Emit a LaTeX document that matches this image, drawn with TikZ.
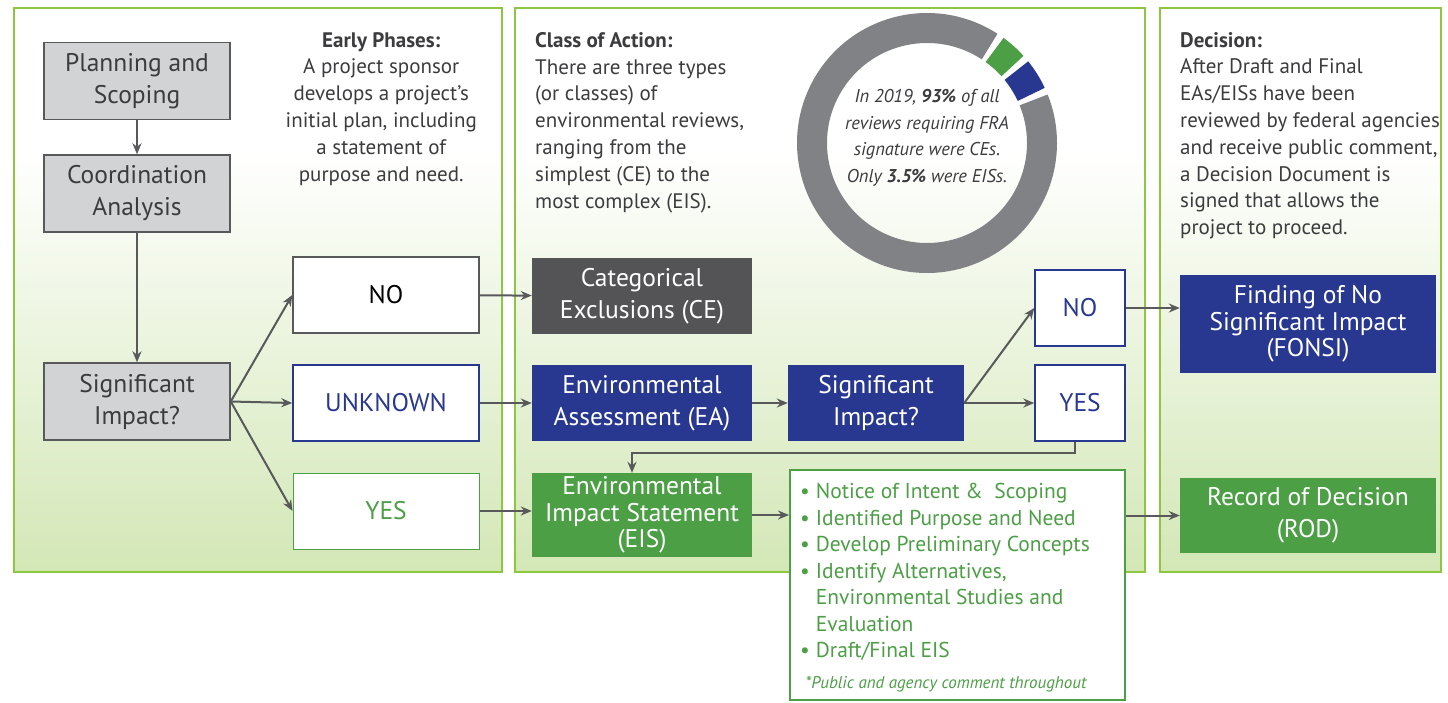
\documentclass[tikz,border=0pt]{standalone}
\usepackage{fontspec}
\setmainfont{PT Sans}
\usetikzlibrary{arrows.meta}

\definecolor{panelline}{HTML}{8DC63F}
\definecolor{panelbg}{HTML}{D3E7B6}
\definecolor{boxgray}{HTML}{D1D3D4}
\definecolor{linegray}{HTML}{58595B}
\definecolor{darkbox}{HTML}{545456}
\definecolor{ringgray}{HTML}{808285}
\definecolor{fedblue}{HTML}{283891}
\definecolor{fedgreen}{HTML}{4C9F45}
\definecolor{textgray}{HTML}{3C3C3E}

\newcommand{\boxtxt}{\fontsize{25.5}{32}\selectfont}
\newcommand{\tightboxtxt}{\fontsize{25.5}{26.5}\selectfont}
\newcommand{\paneltxt}{\fontsize{21}{26.8}\selectfont}
\newcommand{\donuttxt}{\fontsize{18.5}{26.5}\selectfont\itshape}
\newcommand{\listtxt}{\fontsize{21.5}{26.5}\selectfont}
\newcommand{\notetxt}{\fontsize{17}{18}\selectfont\itshape}

\begin{document}
\begin{tikzpicture}[x=1pt,y=-1pt,
    every node/.style={font=\boxtxt, align=center, inner sep=0pt},
    stagebox/.style={draw=linegray, line width=1.5pt, fill=boxgray, text=textgray,
      minimum width=186pt, minimum height=77pt},
    answerbox/.style={draw=#1, line width=1.5pt, fill=white, text=#1,
      minimum height=76pt},
    classbox/.style={fill=#1, text=white, minimum width=220pt, minimum height=76pt},
    panelnote/.style={font=\paneltxt, text=textgray},
    flow/.style={draw=linegray, line width=2pt, -{Stealth[length=11pt,width=9pt]}}]
  \useasboundingbox[fill=white] (0,0) rectangle (1448,702);

  % three phase panels
  \foreach \xa/\xb in {14/502, 515/1145, 1160/1441}{
    \shade[top color=white, bottom color=panelbg] (\xa,150) rectangle (\xb,572);
    \draw[panelline, line width=2pt] (\xa,8) rectangle (\xb,572);
  }

  % early phases
  \node[stagebox] (plan) at (137,81) {Planning and\\Scoping};
  \node[stagebox] (coord) at (137,193.5) {Coordination\\Analysis};
  \node[stagebox] (sig1) at (137,401.5) {Significant\\Impact?};
  \node[answerbox=linegray, minimum width=186pt, text=black] (no1) at (386,295) {NO};
  \node[answerbox=fedblue, minimum width=186pt] (unk1) at (386,403) {UNKNOWN};
  \node[answerbox=fedgreen, minimum width=186pt, line width=1pt] (yes1) at (386,511) {YES};
  \node[panelnote, anchor=north east] (early) at (477,32)
    {\textbf{Early Phases:}\\A project sponsor\\develops a project’s\\initial plan, including\\a statement of\\purpose and need.};

  % class of action
  \node[panelnote, anchor=north west, align=left] (class) at (535,32)
    {\textbf{Class of Action:}\\There are three types\\(or classes) of\\environmental reviews,\\ranging from the\\simplest (CE) to the\\most complex (EIS).};
  \draw[ringgray, line width=30pt] (927,143) ++(-57:115) arc (-57:-382:115);
  \draw[fedgreen, line width=30pt] (927,143) ++(-54:115) arc (-54:-42:115);
  \draw[fedblue, line width=30pt] (927,143) ++(-39:115) arc (-39:-25:115);
  \node[font=\donuttxt, text=textgray] (share) at (927,138)
    {In 2019, \textbf{93\%} of all\\reviews requiring FRA\\signature were CEs.\\Only \textbf{3.5\%} were EISs.};
  \node[classbox=darkbox] (ce) at (642,296) {Categorical\\Exclusions (CE)};
  \node[classbox=fedblue] (ea) at (642,403) {Environmental\\Assessment (EA)};
  \node[classbox=fedgreen, minimum height=84pt, font=\tightboxtxt] (eis) at (642,515)
    {Environmental\\Impact Statement\\(EIS)};
  \node[classbox=fedblue, minimum width=176pt] (sig2) at (876,403) {Significant\\Impact?};
  \node[answerbox=fedblue, minimum width=90pt] (no2) at (1080,308) {NO};
  \node[answerbox=fedblue, minimum width=90pt] (yes2) at (1080,403) {YES};
  \node[draw=fedgreen, line width=2pt, fill=white, minimum width=335pt,
    minimum height=230pt] (steps) at (957.5,585) {};
  \node[anchor=north west, font=\listtxt, text=fedgreen, align=left] (steplist) at (800,480)
    {\begin{tabular}{@{}l@{\hspace{6pt}}l@{}}
      \textbullet & Notice of Intent \&\ \ Scoping\\
      \textbullet & Identified Purpose and Need\\
      \textbullet & Develop Preliminary Concepts\\
      \textbullet & Identify Alternatives,\\
                  & Environmental Studies and\\
                  & Evaluation\\
      \textbullet & Draft/Final EIS
    \end{tabular}};
  \node[font=\notetxt, text=fedgreen] (stepnote) at (946,684)
    {*Public and agency comment throughout};

  % decision
  \node[panelnote, anchor=north west, align=left] (decision) at (1180,32)
    {\textbf{Decision:}\\After Draft and Final\\EAs/EISs have been\\reviewed by federal agencies\\and receive public comment,\\a Decision Document is\\signed that allows the\\project to proceed.};
  \node[classbox=fedblue, minimum width=256pt, minimum height=98pt, font=\tightboxtxt]
    (fonsi) at (1308,324) {Finding of No\\Significant Impact\\(FONSI)};
  \node[classbox=fedgreen, minimum width=256pt, minimum height=75pt] (rod) at (1308,515.5)
    {Record of Decision\\(ROD)};

  % connectors
  \draw[flow] (plan) -- (coord);
  \draw[flow] (coord) -- (sig1);
  \draw[flow] (sig1.east) -- (no1.west);
  \draw[flow] (sig1.east) -- (unk1.west);
  \draw[flow] (sig1.east) -- (yes1.west);
  \draw[flow] (no1) -- (ce);
  \draw[flow] (unk1) -- (ea);
  \draw[flow] (yes1.east) -- (yes1.east -| eis.west);
  \draw[flow] (ea) -- (sig2);
  \draw[flow] (sig2.east) -- (no2.west);
  \draw[flow] (sig2.east) -- (yes2.west);
  \draw[flow] ([xshift=-5pt]yes2.south) -- ++(0,11) -| ([xshift=-10pt]eis.north);
  \draw[flow] (eis.east) -- (eis.east -| steps.west);
  \draw[flow] (no2.east) -- (no2.east -| fonsi.west);
  \draw[flow] (rod.west -| steps.east) -- (rod.west);
\end{tikzpicture}
\end{document}
